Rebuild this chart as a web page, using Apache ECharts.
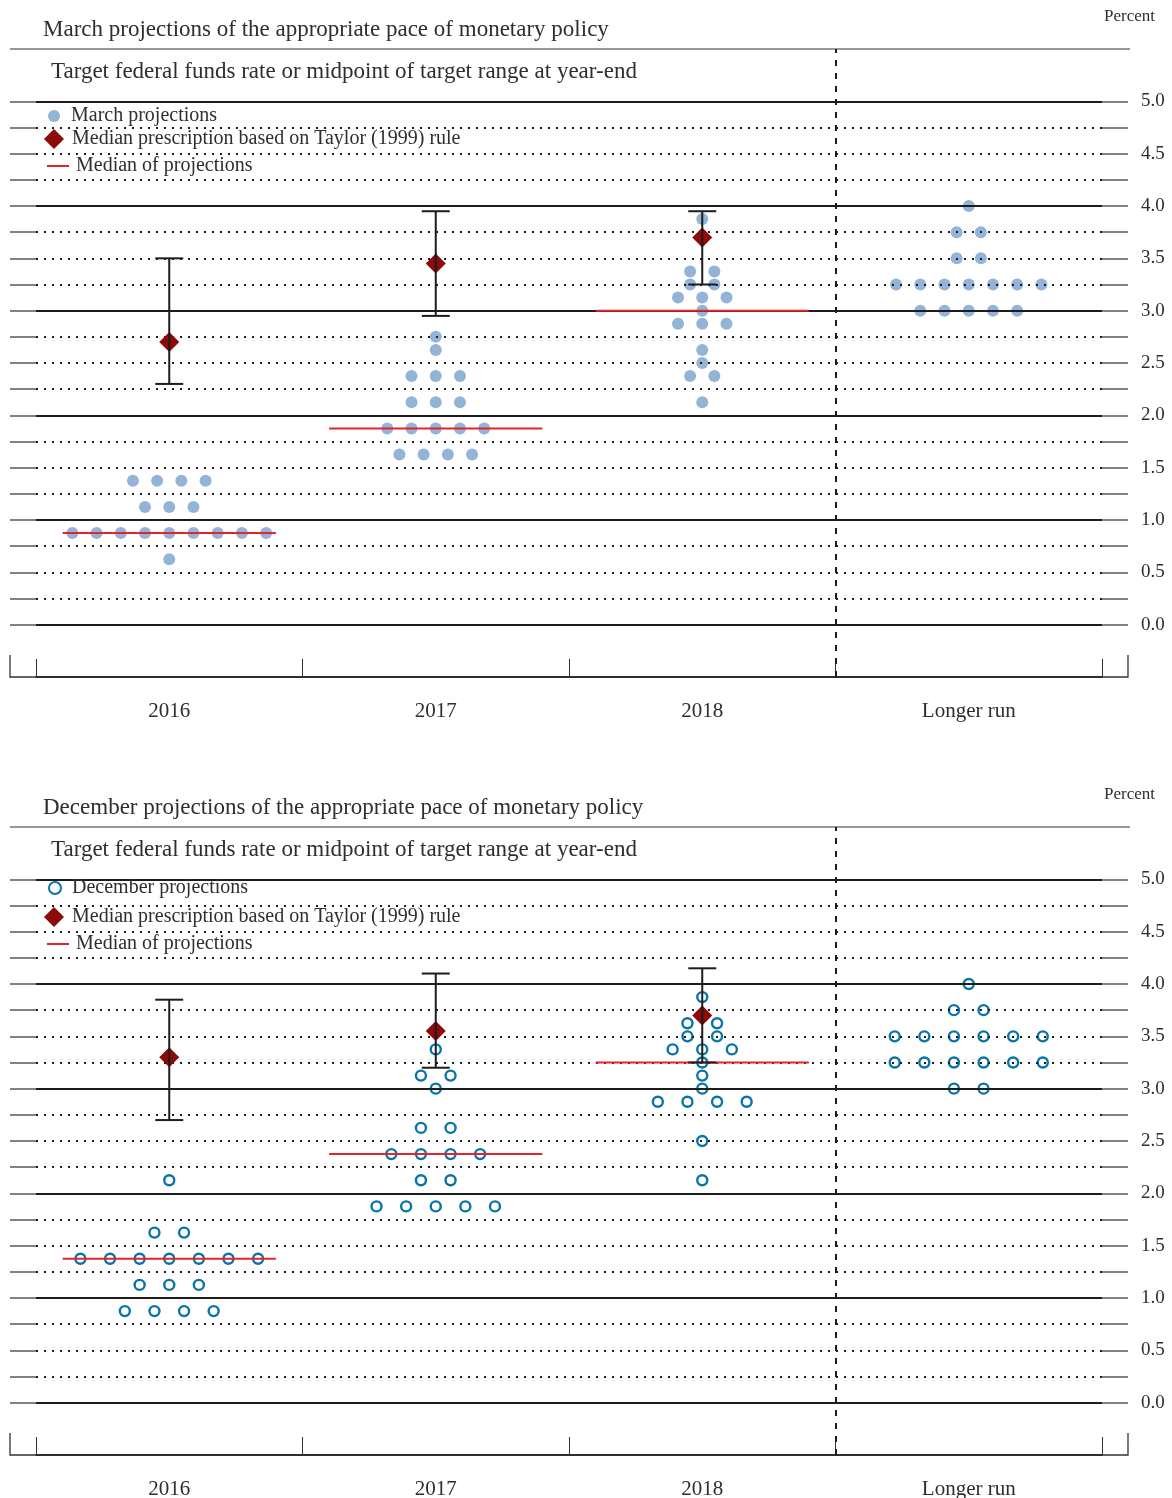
<!DOCTYPE html>
<html>
<head>
<meta charset="utf-8">
<title>FOMC projections of the federal funds rate</title>
<script src="https://cdn.jsdelivr.net/npm/echarts@6/dist/echarts.min.js"></script>
<style>
  html, body { margin: 0; padding: 0; background: #fff; }
  #chart { width: 1172px; height: 1498px; }
</style>
</head>
<body>
<div id="chart"></div>
<script>
// ---- Data -------------------------------------------------------------
const categories = ['2016', '2017', '2018', 'Longer run'];
const rateTicks = [0, 0.5, 1, 1.5, 2, 2.5, 3, 3.5, 4, 4.5, 5];

// March projections: one value per participant (17 participants)
const marchProj2016 = [1.375, 1.375, 1.375, 1.375, 1.125, 1.125, 1.125,
  0.875, 0.875, 0.875, 0.875, 0.875, 0.875, 0.875, 0.875, 0.875, 0.625];
const marchProj2017 = [2.75, 2.625, 2.375, 2.375, 2.375, 2.125, 2.125, 2.125,
  1.875, 1.875, 1.875, 1.875, 1.875, 1.625, 1.625, 1.625, 1.625];
const marchProj2018 = [3.875, 3.375, 3.375, 3.25, 3.25, 3.125, 3.125, 3.125, 3.0,
  2.875, 2.875, 2.875, 2.625, 2.5, 2.375, 2.375, 2.125];
const marchProjLonger = [4.0, 3.75, 3.75, 3.5, 3.5, 3.25, 3.25, 3.25, 3.25, 3.25,
  3.25, 3.25, 3.0, 3.0, 3.0, 3.0, 3.0];
const marchMedians = [0.875, 1.875, 3.0];
const marchTaylor = [2.7, 3.45, 3.7];
const marchTaylorLow = [2.3, 2.95, 3.25];
const marchTaylorHigh = [3.5, 3.95, 3.95];

// December projections
const decProj2016 = [2.125, 1.625, 1.625, 1.375, 1.375, 1.375, 1.375, 1.375, 1.375,
  1.375, 1.125, 1.125, 1.125, 0.875, 0.875, 0.875, 0.875];
const decProj2017 = [3.375, 3.125, 3.125, 3.0, 2.625, 2.625, 2.375, 2.375, 2.375,
  2.375, 2.125, 2.125, 1.875, 1.875, 1.875, 1.875, 1.875];
const decProj2018 = [3.875, 3.625, 3.625, 3.5, 3.5, 3.375, 3.375, 3.375, 3.25, 3.125,
  3.0, 2.875, 2.875, 2.875, 2.875, 2.5, 2.125];
const decProjLonger = [4.0, 3.75, 3.75, 3.5, 3.5, 3.5, 3.5, 3.5, 3.5, 3.25, 3.25,
  3.25, 3.25, 3.25, 3.25, 3.0, 3.0];
const decMedians = [1.375, 2.375, 3.25];
const decTaylor = [3.3, 3.55, 3.7];
const decTaylorLow = [2.7, 3.2, 3.25];
const decTaylorHigh = [3.85, 4.1, 4.15];

// ---- Styling ----------------------------------------------------------
const FONT = '"Liberation Serif", "Times New Roman", serif';
const TEXT = '#2e2e2e';
const INK = '#1c1c1c';
const TICK = '#5a5a5a';
const RED = '#e3242b';
const TAYLOR = '#8c0a0a';

const panels = [
  {
    title: 'March projections of the appropriate pace of monetary policy',
    dotName: 'March projections',
    proj: [marchProj2016, marchProj2017, marchProj2018, marchProjLonger],
    medians: marchMedians, taylor: marchTaylor, low: marchTaylorLow, high: marchTaylorHigh,
    hollow: false, offset: 0, legendY: [116, 139, 166]
  },
  {
    title: 'December projections of the appropriate pace of monetary policy',
    dotName: 'December projections',
    proj: [decProj2016, decProj2017, decProj2018, decProjLonger],
    medians: decMedians, taylor: decTaylor, low: decTaylorLow, high: decTaylorHigh,
    hollow: true, offset: 778, legendY: [888, 917, 944]
  }
];

// Dot plot layout: equal values are spread side by side around the column centre.
function layoutDots(projByCat) {
  const groups = projByCat.map(vals => {
    const m = new Map();
    vals.forEach(v => m.set(v, (m.get(v) || 0) + 1));
    return m;
  });
  let maxN = 0;
  groups.forEach(m => m.forEach(n => { maxN = Math.max(maxN, n); }));
  const step = 1 / (maxN + 2);
  const pts = [];
  groups.forEach((m, ci) => m.forEach((n, v) => {
    for (let k = 0; k < n; k++) pts.push([ci + 0.5 + (k - (n - 1) / 2) * step, v]);
  }));
  return pts;
}

function renderMedian(params, api) {
  const x = api.value(0), v = api.value(1);
  const a = api.coord([x - 0.4, v]), b = api.coord([x + 0.4, v]);
  return { type: 'line', shape: { x1: a[0], y1: a[1], x2: b[0], y2: b[1] },
    style: { stroke: RED, lineWidth: 2 } };
}

function renderRange(params, api) {
  const x = api.value(0);
  const lo = api.coord([x, api.value(1)]), hi = api.coord([x, api.value(2)]);
  const half = 14;
  const style = { stroke: INK, lineWidth: 2 };
  return { type: 'group', children: [
    { type: 'line', shape: { x1: lo[0], y1: lo[1], x2: hi[0], y2: hi[1] }, style },
    { type: 'line', shape: { x1: hi[0] - half, y1: hi[1], x2: hi[0] + half, y2: hi[1] }, style },
    { type: 'line', shape: { x1: lo[0] - half, y1: lo[1], x2: lo[0] + half, y2: lo[1] }, style }
  ] };
}

const grid = [], xAxis = [], yAxis = [], series = [], legend = [], graphic = [];
const LEFT = 36, RIGHT = 70;
const UNIT = 628 / 6;

panels.forEach((p, pi) => {
  const off = p.offset;
  const gA = grid.length;
  grid.push({ left: LEFT, right: RIGHT, top: 49 + off, height: 628,
    containLabel: false, outerBoundsMode: 'none' });
  const gB = grid.length;
  grid.push({ left: LEFT, right: RIGHT, top: 49 + off + 0.5 * UNIT, height: 5 * UNIT,
    containLabel: false, outerBoundsMode: 'none' });

  // x axes
  xAxis.push({
    type: 'category', gridIndex: gA, data: categories, position: 'bottom', boundaryGap: true,
    axisLine: { show: true, onZero: false, lineStyle: { color: INK, width: 1.5 } },
    axisTick: { show: true, inside: true, length: 18, interval: 0, lineStyle: { color: '#333', width: 1 } },
    axisLabel: { show: true, interval: 0, margin: 24, color: TEXT, fontFamily: FONT, fontSize: 21 },
    splitLine: { show: false }
  });
  const xVal = xAxis.length;
  xAxis.push({ type: 'value', gridIndex: gA, min: 0, max: 4, show: false });
  xAxis.push({ type: 'value', gridIndex: gB, min: 0, max: 4, show: false });

  // y axes
  const yVal = yAxis.length;
  yAxis.push({ type: 'value', gridIndex: gA, min: -0.5, max: 5.5, show: false });
  // left ticks + dotted quarter-point rules
  yAxis.push({
    type: 'value', gridIndex: gB, position: 'left', min: 0, max: 5, interval: 0.25, z: 3,
    axisLine: { show: false },
    axisTick: { show: true, inside: false, length: 26, lineStyle: { color: TICK, width: 1.5 } },
    axisLabel: { show: false },
    splitLine: { show: true, lineStyle: { color: INK, width: 2, type: [2, 6] } }
  });
  // right ticks + labels
  yAxis.push({
    type: 'value', gridIndex: gB, position: 'right', min: 0, max: 5, interval: 0.25, z: 3,
    axisLine: { show: false },
    axisTick: { show: true, inside: false, length: 26, lineStyle: { color: TICK, width: 1.5 } },
    axisLabel: {
      show: true, margin: 39, color: TEXT, fontFamily: FONT, fontSize: 19, padding: [4, 0, 0, 0],
      formatter: v => (rateTicks.indexOf(v) >= 0 ? v.toFixed(1) : '')
    },
    splitLine: { show: false }
  });
  // solid whole-percent rules
  yAxis.push({
    type: 'value', gridIndex: gB, position: 'right', min: 0, max: 5, interval: 1, z: 3,
    axisLine: { show: false }, axisTick: { show: false }, axisLabel: { show: false },
    splitLine: { show: true, lineStyle: { color: INK, width: 2, type: 'solid' } }
  });

  const dotStyle = p.hollow
    ? { color: 'rgba(255,255,255,0)', borderColor: '#0a74a6', borderWidth: 2.4, opacity: 1 }
    : { color: '#93b4d6', opacity: 1 };

  series.push({
    name: p.dotName, type: 'scatter', xAxisIndex: xVal, yAxisIndex: yVal, z: 1,
    symbol: 'circle', symbolSize: p.hollow ? 10 : 12, itemStyle: dotStyle,
    silent: true, emphasis: { disabled: true },
    data: layoutDots(p.proj),
    markLine: {
      silent: true, symbol: ['none', 'none'], label: { show: false },
      lineStyle: { color: INK, width: 2, type: [6, 7] },
      emphasis: { disabled: true },
      data: [{ xAxis: 3 }]
    }
  });
  series.push({
    name: 'Median of projections', type: 'custom', xAxisIndex: xVal, yAxisIndex: yVal, z: 4,
    silent: true, itemStyle: { color: RED }, renderItem: renderMedian,
    encode: { x: 0, y: 1 },
    data: p.medians.map((v, i) => [i + 0.5, v])
  });
  series.push({
    name: 'Median prescription based on Taylor (1999) rule', type: 'scatter',
    xAxisIndex: xVal, yAxisIndex: yVal, z: 5, symbol: 'diamond', symbolSize: 20,
    itemStyle: { color: TAYLOR, opacity: 1 }, silent: true, emphasis: { disabled: true },
    data: p.taylor.map((v, i) => [i + 0.5, v])
  });
  series.push({
    name: 'Taylor range', type: 'custom', xAxisIndex: xVal, yAxisIndex: yVal, z: 6,
    silent: true, renderItem: renderRange, encode: { x: 0, y: [1, 2] },
    data: p.low.map((v, i) => [i + 0.5, v, p.high[i]])
  });

  // legend entries (text nudged down so its glyphs centre on the icon)
  const legText = { color: TEXT, fontFamily: FONT, fontSize: 20, lineHeight: 20 };
  legend.push({
    left: 48, top: p.legendY[0] - 12, padding: 0, itemWidth: 12, itemHeight: 12,
    selectedMode: false,
    textStyle: Object.assign({ padding: [4, 0, 0, 6] }, legText),
    data: [{ name: p.dotName, icon: 'circle', itemStyle: p.hollow
      ? { color: 'rgba(255,255,255,0)', borderColor: '#0a74a6', borderWidth: 2 }
      : { color: '#93b4d6' } }]
  });
  legend.push({
    left: 44, top: p.legendY[1] - 12, padding: 0, itemWidth: 20, itemHeight: 20,
    selectedMode: false,
    textStyle: Object.assign({ padding: [4, 0, 0, 3] }, legText),
    data: [{ name: 'Median prescription based on Taylor (1999) rule', icon: 'diamond',
      itemStyle: { color: TAYLOR } }]
  });
  legend.push({
    left: 47, top: p.legendY[2] - 12, padding: 0, itemWidth: 22, itemHeight: 2,
    selectedMode: false,
    textStyle: Object.assign({ padding: [4, 0, 0, 2] }, legText),
    data: [{ name: 'Median of projections', icon: 'rect', itemStyle: { color: RED } }]
  });

  // headings and frame pieces
  graphic.push(
    { type: 'text', x: 43, y: 30 + off, silent: true,
      style: { text: p.title, font: '23px ' + FONT, fill: TEXT,
        textVerticalAlign: 'middle', verticalAlign: 'middle' } },
    { type: 'text', x: 51, y: 72 + off, silent: true,
      style: { text: 'Target federal funds rate or midpoint of target range at year-end',
        font: '23px ' + FONT, fill: TEXT, textVerticalAlign: 'middle', verticalAlign: 'middle' } },
    { type: 'text', x: 1155, y: 17 + off, silent: true,
      style: { text: 'Percent', font: '17px ' + FONT, fill: TEXT,
        textAlign: 'right', align: 'right', textVerticalAlign: 'middle', verticalAlign: 'middle' } },
    { type: 'line', silent: true,
      shape: { x1: 10, y1: 49 + off, x2: 1130, y2: 49 + off },
      style: { stroke: '#333', lineWidth: 1.2 } },
    { type: 'polyline', silent: true,
      shape: { points: [[10, 655 + off], [10, 677 + off], [1128, 677 + off], [1128, 655 + off]] },
      style: { stroke: '#333', lineWidth: 1.3, fill: null } }
  );
});

const chart = echarts.init(document.getElementById('chart'), null, { renderer: 'canvas' });
chart.setOption({
  backgroundColor: '#ffffff',
  animation: false,
  textStyle: { fontFamily: FONT },
  grid, xAxis, yAxis, series, legend, graphic,
  tooltip: { show: false }
});
</script>
</body>
</html>
